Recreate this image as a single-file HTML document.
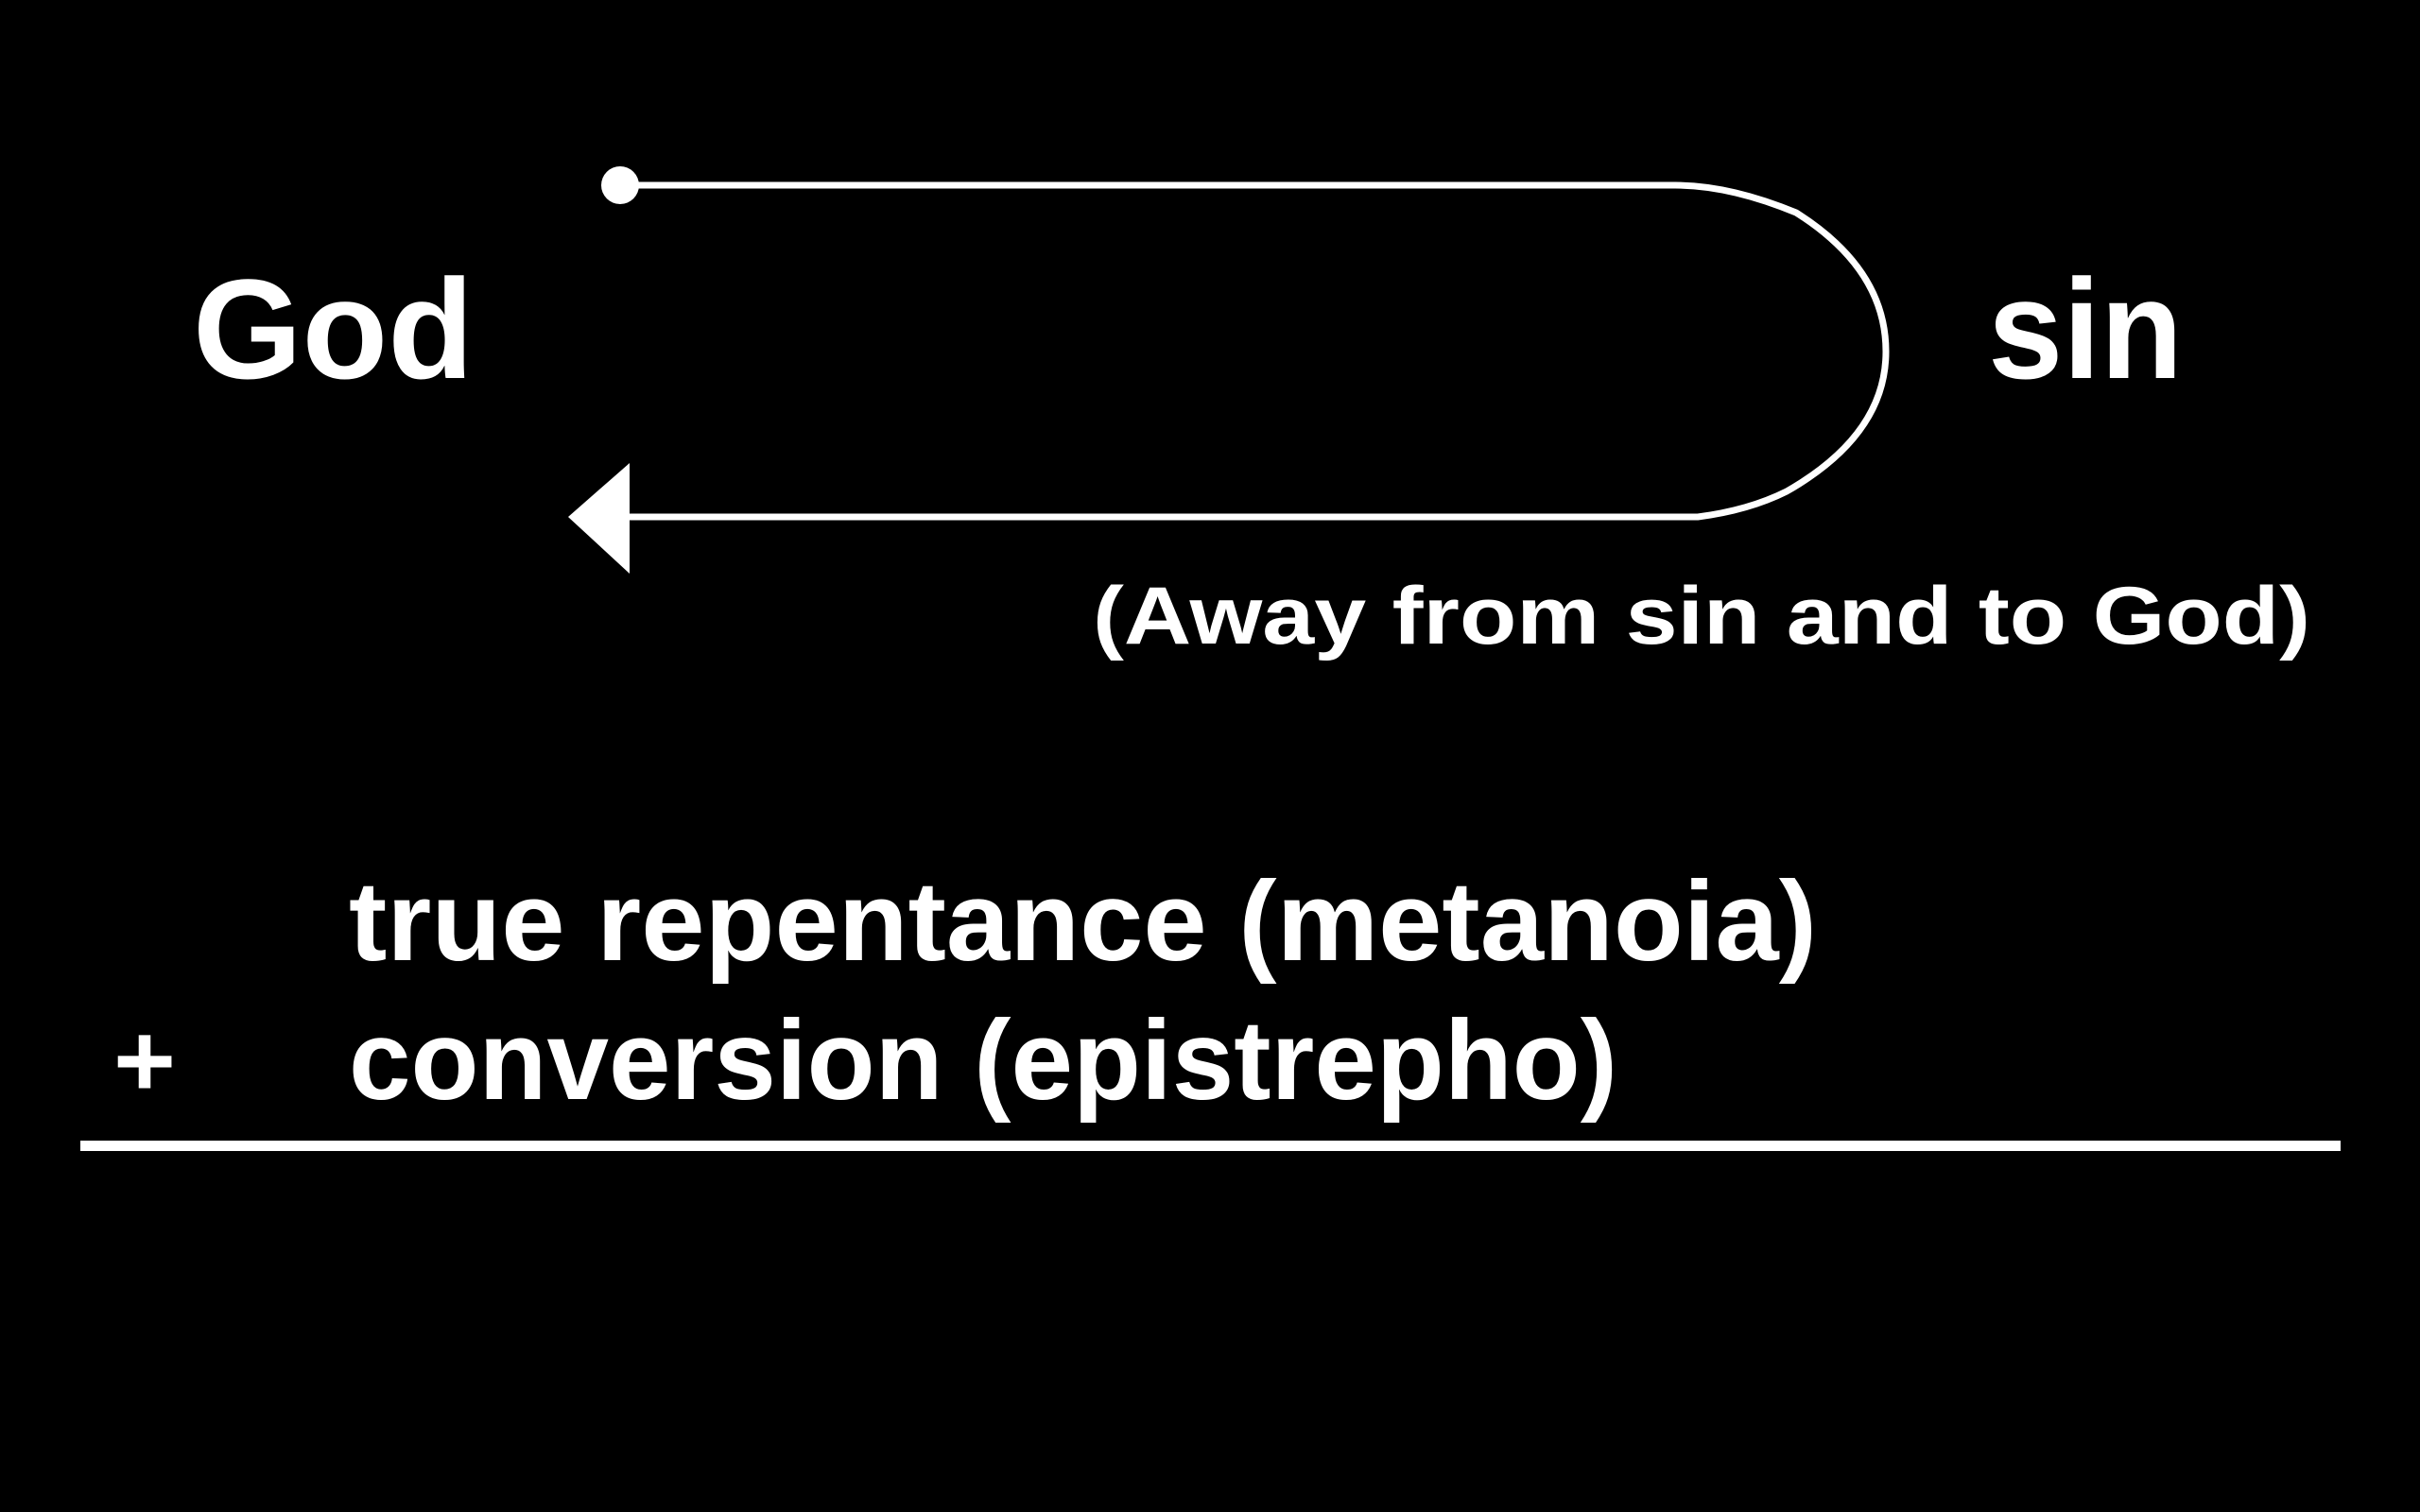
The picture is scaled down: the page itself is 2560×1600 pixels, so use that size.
<!DOCTYPE html>
<html><head><meta charset="utf-8"><style>
html,body{margin:0;padding:0;background:#000;}
svg{display:block;}
text{font-family:"Liberation Sans",sans-serif;font-weight:bold;fill:#fff;}
</style></head><body>
<svg width="2560" height="1600" viewBox="0 0 2560 1600" xmlns="http://www.w3.org/2000/svg">
<rect width="2560" height="1600" fill="#000"/>
<circle cx="656" cy="196" r="20" fill="#fff"/>
<path d="M656 196 L1772 196 Q1830 196 1900 225 Q1995 285 1995 372 Q1995 460 1890 520 Q1850 540 1796 547 L662 547" fill="none" stroke="#fff" stroke-width="7"/>
<polygon points="601,547 666,490 666,607" fill="#fff"/>
<text x="204" y="400" font-size="150" textLength="297" lengthAdjust="spacingAndGlyphs">God</text>
<text x="2103" y="400" font-size="150" textLength="206" lengthAdjust="spacingAndGlyphs">sin</text>
<text x="1156" y="681" font-size="86" textLength="1288" lengthAdjust="spacingAndGlyphs">(Away from sin and to God)</text>
<text x="369" y="1016" font-size="120" textLength="1553" lengthAdjust="spacingAndGlyphs">true repentance (metanoia)</text>
<text x="369" y="1163" font-size="120" textLength="1342" lengthAdjust="spacingAndGlyphs">conversion (epistrepho)</text>
<text x="120" y="1160" font-size="110" textLength="66" lengthAdjust="spacingAndGlyphs">+</text>
<rect x="85" y="1207" width="2391" height="11" fill="#fff"/>
</svg>
</body></html>
